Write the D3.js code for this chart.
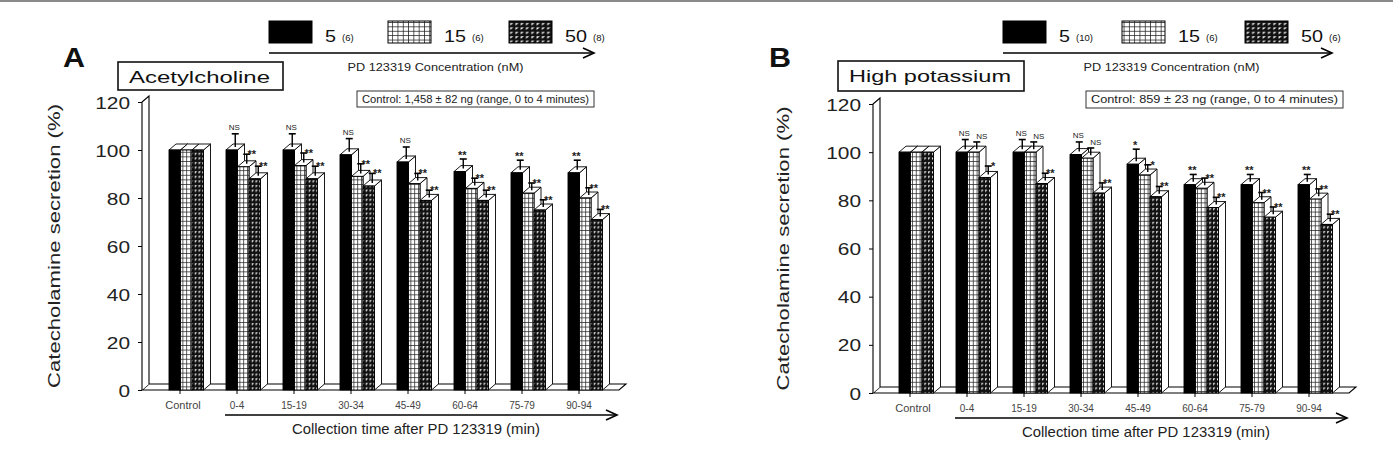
<!DOCTYPE html>
<html>
<head>
<meta charset="utf-8">
<script src="https://cdn.jsdelivr.net/npm/d3@7"></script>
<style>
  body { margin: 0; background: #fff; }
  svg { display: block; font-family: "Liberation Sans", Arial, sans-serif; }
</style>
</head>
<body>
<div id="chart"></div>
<script>
// categories
const groups = ["Control", "0-4", "15-19", "30-34", "45-49", "60-64", "75-79", "90-94"];
const concLabels = ["5", "15", "50"];
const yTicks = [0, 20, 40, 60, 80, 100, 120];

// panel A : acetylcholine
const achN = ["(6)", "(6)", "(8)"];
const ach5 = [100, 100, 100, 98, 95, 91, 90.5, 90.5];
const ach15 = [100, 93, 93.5, 89, 86, 84, 82, 80];
const ach50 = [100, 88, 88, 85, 79, 79, 75, 71];
const achErr5 = [0, 5.5, 5.5, 5.5, 5, 4, 4, 4];
const achErr15 = [0, 4, 4, 4, 3, 3, 3, 3];
const achErr50 = [0, 4, 4, 4, 3, 3, 3, 3];
const achSig5 = ["", "NS", "NS", "NS", "NS", "**", "**", "**"];
const achSig15 = ["", "**", "**", "**", "**", "**", "**", "**"];
const achSig50 = ["", "**", "**", "**", "**", "**", "**", "**"];

// panel B : high potassium
const kN = ["(10)", "(6)", "(6)"];
const k5 = [100, 100, 100, 99, 95, 86.5, 86.5, 86.5];
const k15 = [100, 100, 100, 97.5, 90.5, 85, 79, 80.5];
const k50 = [100, 89.5, 87, 83, 81.5, 77, 73, 70];
const kErr5 = [0, 4, 4, 4, 5, 3, 3, 3];
const kErr15 = [0, 3, 3, 3, 3, 3, 3, 3];
const kErr50 = [0, 3.5, 3, 3, 3, 3, 3, 3];
const kSig5 = ["", "NS", "NS", "NS", "*", "**", "**", "**"];
const kSig15 = ["", "NS", "NS", "NS", "*", "**", "**", "**"];
const kSig50 = ["", "*", "**", "**", "**", "**", "**", "**"];

const W = 1393, H = 453;
const svg = d3.select("#chart").append("svg").attr("width", W).attr("height", H);

// bar fills (small cells for bars, larger cells for legend swatches)
const defs = svg.append("defs");
function makePatterns(suffix, w, h) {
  const pg = defs.append("pattern").attr("id", "pGrid" + suffix)
    .attr("patternUnits", "userSpaceOnUse").attr("width", w).attr("height", h);
  pg.append("rect").attr("width", w).attr("height", h).attr("fill", "#fff");
  pg.append("path").attr("d", `M0.4,0V${h}M0,0.4H${w}`).attr("stroke", "#222").attr("stroke-width", 0.8);

  const pd = defs.append("pattern").attr("id", "pDense" + suffix)
    .attr("patternUnits", "userSpaceOnUse").attr("width", w).attr("height", h);
  pd.append("rect").attr("width", w).attr("height", h).attr("fill", "#111");
  pd.append("path").attr("d", `M${w * 0.25},${h * 0.25}L${w * 0.85},${h * 0.25}L${w * 0.25},${h * 0.8}Z`).attr("fill", "#fff");
}
makePatterns("", 3.8, 4.6);
makePatterns("L", 5.3, 4.4);

const fills = ["#000", "url(#pGrid)", "url(#pDense)"];
const legendFills = ["#000", "url(#pGridL)", "url(#pDenseL)"];

// thin gray border at the top
svg.append("rect").attr("x", 0).attr("y", 0).attr("width", W).attr("height", 2).attr("fill", "#8a8a8a");

function drawPanel(p) {
  const g = svg.append("g");
  const dx = 7, dy = 6;

  const y = d3.scaleLinear().domain([0, 120]).range([p.y0, p.y120]);
  const x = d3.scalePoint().domain(groups).range([p.tick0, p.tick0 + 57 * 7]);
  const sub = d3.scaleBand().domain(concLabels).range([-11, 23.5]);
  const bw = sub.bandwidth();

  // floor
  const fx0 = p.axisX, fx1 = x(groups[groups.length - 1]) + 40;
  g.append("path")
    .attr("d", `M${fx0},${p.y0}L${fx1},${p.y0}L${fx1 + dx},${p.y0 - dy}L${fx0 + dx},${p.y0 - dy}Z`)
    .attr("fill", "#fff").attr("stroke", "#000").attr("stroke-width", 1.1);

  // left wall
  g.append("path")
    .attr("d", `M${p.axisX},${p.y0}L${p.axisX},${y(120)}L${p.axisX + dx},${y(120) - dy}L${p.axisX + dx},${p.y0 - dy}`)
    .attr("fill", "#fff").attr("stroke", "#000").attr("stroke-width", 1.1);

  // y axis
  const ax = g.append("g").attr("transform", `translate(${p.axisX},0)`)
    .call(d3.axisLeft(y).tickValues(yTicks).tickSize(4).tickPadding(8));
  ax.select(".domain").remove();
  ax.selectAll("line").attr("stroke", "#000");
  ax.selectAll("text")
    .attr("font-size", 17).attr("fill", "#222")
    .attr("dy", "0.36em")
    .attr("textLength", d => String(d).length * 11.6)
    .attr("lengthAdjust", "spacingAndGlyphs");

  // y title
  g.append("text")
    .attr("transform", `translate(${p.titleX},${(p.y0 + y(120)) / 2}) rotate(-90)`)
    .attr("text-anchor", "middle").attr("dy", "0.35em")
    .attr("font-size", 17).attr("fill", "#222")
    .attr("textLength", 284).attr("lengthAdjust", "spacingAndGlyphs")
    .text("Catecholamine secretion (%)");

  // bars
  const series = [p.v5, p.v15, p.v50];
  const errs = [p.e5, p.e15, p.e50];
  const sigs = [p.s5, p.s15, p.s50];
  groups.forEach((grp, i) => {
    concLabels.forEach((c, s) => {
      const v = series[s][i];
      const x0 = x(grp) + sub(c), top = y(v), bot = y(0);
      const bar = g.append("g");
      bar.append("path")
        .attr("d", `M${x0 + bw},${bot}L${x0 + bw},${top}L${x0 + bw + dx},${top - dy}L${x0 + bw + dx},${bot - dy}Z`)
        .attr("fill", "#fff").attr("stroke", "#000").attr("stroke-width", 0.9);
      bar.append("path")
        .attr("d", `M${x0},${top}L${x0 + bw},${top}L${x0 + bw + dx},${top - dy}L${x0 + dx},${top - dy}Z`)
        .attr("fill", "#fff").attr("stroke", "#000").attr("stroke-width", 0.9);
      bar.append("rect")
        .attr("x", x0).attr("y", top).attr("width", bw).attr("height", bot - top)
        .attr("fill", fills[s]).attr("stroke", "#000").attr("stroke-width", 0.9);

      const e = errs[s][i];
      if (e > 0) {
        const ex = x0 + bw / 2 + dx / 2;
        const ey = top - dy / 2;
        const cap = y(v + e) - dy / 2;
        bar.append("line").attr("x1", ex).attr("x2", ex).attr("y1", ey).attr("y2", cap)
          .attr("stroke", "#000").attr("stroke-width", 1.4);
        bar.append("line").attr("x1", ex - 3.5).attr("x2", ex + 3.5).attr("y1", cap).attr("y2", cap)
          .attr("stroke", "#000").attr("stroke-width", 1.6);
        const lab = sigs[s][i];
        const isNS = lab === "NS";
        bar.append("text")
          .attr("x", s === 0 ? ex - 1 : ex + 5)
          .attr("y", s === 0 ? cap - (isNS ? 4 : 0) : cap + (isNS ? -3 : 4))
          .attr("text-anchor", "middle")
          .attr("font-size", isNS ? 8 : 11)
          .attr("font-weight", isNS ? "normal" : "bold")
          .attr("fill", "#222")
          .text(lab);
      }
    });
    // group tick and label
    g.append("line").attr("x1", x(grp)).attr("x2", x(grp)).attr("y1", p.y0).attr("y2", p.y0 + 4)
      .attr("stroke", "#000");
    g.append("text")
      .attr("x", x(grp) + (i === 0 ? 3 : 0)).attr("y", p.labelY)
      .attr("text-anchor", "middle")
      .attr("font-size", i === 0 ? 11 : 10).attr("fill", "#444")
      .text(grp);
  });

  // x arrow + title
  const axStart = x(groups[1]) - 12, axEnd = fx1 - 2;
  g.append("line").attr("x1", axStart).attr("x2", axEnd).attr("y1", p.arrowY).attr("y2", p.arrowY)
    .attr("stroke", "#000").attr("stroke-width", 1.6);
  g.append("path").attr("d", `M${axEnd - 11},${p.arrowY - 5}L${axEnd},${p.arrowY}L${axEnd - 11},${p.arrowY + 5}`)
    .attr("fill", "none").attr("stroke", "#000").attr("stroke-width", 1.6);
  g.append("text")
    .attr("x", p.xTitleX).attr("y", p.arrowY + 19).attr("text-anchor", "middle")
    .attr("font-size", 14.5).attr("fill", "#222")
    .attr("textLength", 248).attr("lengthAdjust", "spacingAndGlyphs")
    .text("Collection time after PD 123319 (min)");

  // panel letter
  g.append("text").attr("x", p.letterX).attr("y", 67)
    .attr("font-size", 27).attr("font-weight", "bold").attr("fill", "#111")
    .attr("textLength", 22).attr("lengthAdjust", "spacingAndGlyphs")
    .text(p.letter);

  // stimulus box
  g.append("rect").attr("x", p.stimBox[0]).attr("y", p.stimBox[1])
    .attr("width", p.stimBox[2]).attr("height", p.stimBox[3])
    .attr("fill", "#fff").attr("stroke", "#111").attr("stroke-width", 1.6);
  g.append("text").attr("x", p.stimBox[0] + 11).attr("y", p.stimBox[1] + 21)
    .attr("font-size", 17).attr("fill", "#111")
    .attr("textLength", p.stimBox[2] - 24).attr("lengthAdjust", "spacingAndGlyphs")
    .text(p.stimulus);

  // legend
  concLabels.forEach((c, s) => {
    const lx = p.legendX[s];
    g.append("rect").attr("x", lx).attr("y", 21).attr("width", 43).attr("height", 22)
      .attr("fill", legendFills[s]).attr("stroke", "#000").attr("stroke-width", 1);
    g.append("text").attr("x", lx + 56).attr("y", 42)
      .attr("font-size", 17).attr("fill", "#111")
      .attr("textLength", c.length * 11).attr("lengthAdjust", "spacingAndGlyphs")
      .text(c);
    g.append("text").attr("x", lx + 56 + c.length * 11 + 6).attr("y", 41)
      .attr("font-size", 9.5).attr("fill", "#111")
      .text(p.n[s]);
  });
  const l0 = p.legendX[0];
  g.append("line").attr("x1", l0).attr("x2", p.legendArrowEnd).attr("y1", 53).attr("y2", 53)
    .attr("stroke", "#000").attr("stroke-width", 1.6);
  g.append("path").attr("d", `M${p.legendArrowEnd - 11},48L${p.legendArrowEnd},53L${p.legendArrowEnd - 11},58`)
    .attr("fill", "none").attr("stroke", "#000").attr("stroke-width", 1.6);
  g.append("text").attr("x", (l0 + p.legendArrowEnd) / 2 + 4).attr("y", 71)
    .attr("text-anchor", "middle").attr("font-size", 10.5).attr("fill", "#222")
    .attr("textLength", 176).attr("lengthAdjust", "spacingAndGlyphs")
    .text("PD 123319 Concentration (nM)");

  // control note box
  g.append("rect").attr("x", p.ctrlBox[0]).attr("y", p.ctrlBox[1])
    .attr("width", p.ctrlBox[2]).attr("height", p.ctrlBox[3])
    .attr("fill", "#fff").attr("stroke", "#333").attr("stroke-width", 1);
  g.append("text").attr("x", p.ctrlBox[0] + 5).attr("y", p.ctrlBox[1] + 12)
    .attr("font-size", 10.5).attr("fill", "#222")
    .attr("textLength", p.ctrlBox[2] - 10).attr("lengthAdjust", "spacingAndGlyphs")
    .text(p.ctrlText);
}

drawPanel({
  axisX: 142, y0: 390, y120: 102, tick0: 180, titleX: 54, labelY: 409, arrowY: 415, xTitleX: 416,
  letter: "A", letterX: 63, stimulus: "Acetylcholine", stimBox: [118, 62, 165, 28],
  legendX: [269, 388, 509], legendArrowEnd: 594, n: achN,
  ctrlBox: [357, 91, 237, 16], ctrlText: "Control: 1,458 \u00b1 82 ng (range, 0 to 4 minutes)",
  v5: ach5, v15: ach15, v50: ach50, e5: achErr5, e15: achErr15, e50: achErr50,
  s5: achSig5, s15: achSig15, s50: achSig50
});

drawPanel({
  axisX: 873, y0: 393, y120: 104, tick0: 910, titleX: 783, labelY: 412, arrowY: 418, xTitleX: 1146,
  letter: "B", letterX: 769, stimulus: "High potassium", stimBox: [838, 61, 186, 30],
  legendX: [1003, 1122, 1245], legendArrowEnd: 1332, n: kN,
  ctrlBox: [1086, 91, 257, 17], ctrlText: "Control: 859 \u00b1 23 ng (range, 0 to 4 minutes)",
  v5: k5, v15: k15, v50: k50, e5: kErr5, e15: kErr15, e50: kErr50,
  s5: kSig5, s15: kSig15, s50: kSig50
});
</script>
</body>
</html>
